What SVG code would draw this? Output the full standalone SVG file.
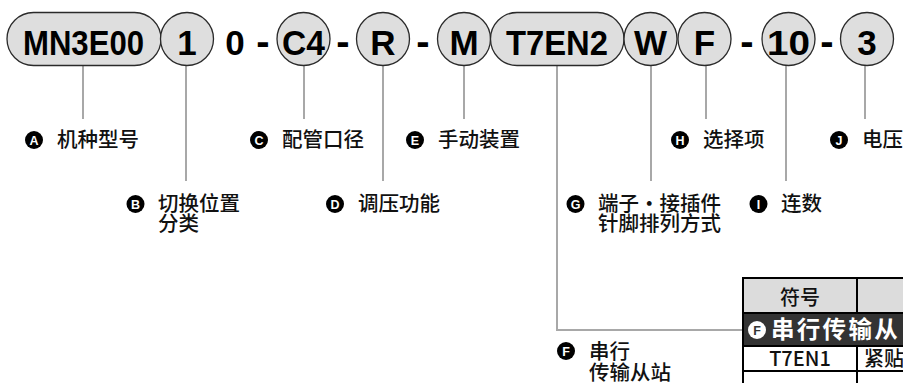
<svg xmlns="http://www.w3.org/2000/svg" width="903" height="383" viewBox="0 0 903 383">
<style>
.sh{fill:#dedede;stroke:#2a2a2a;stroke-width:1.3}
.code{font-family:"Liberation Sans",Arial,sans-serif;font-weight:bold;font-size:35px;fill:#000;text-anchor:middle}
.dash{font-family:"Liberation Sans",Arial,sans-serif;font-weight:bold;font-size:40px;fill:#000;text-anchor:middle}
.ln{stroke:#a8a8a8;stroke-width:2;fill:none}
.lab{font-family:"Noto Sans CJK SC",sans-serif;font-weight:500;font-size:20.5px;fill:#111}
.bd{fill:#000}
.bt{font-family:"Liberation Sans",Arial,sans-serif;font-weight:bold;font-size:12.5px;fill:#fff;text-anchor:middle}
.tb{stroke:#000;stroke-width:2;fill:none}
.th{font-family:"Noto Sans CJK SC",sans-serif;font-weight:500;font-size:20px;fill:#111;text-anchor:middle}
.td{font-family:"Noto Sans CJK SC",sans-serif;font-weight:500;font-size:20px;fill:#111}
</style>
<rect width="903" height="383" fill="#fff"/>
<g id="connectors">
<line class="ln" x1="83" y1="65" x2="83" y2="119"/>
<line class="ln" x1="186" y1="65" x2="186" y2="181"/>
<line class="ln" x1="304" y1="65" x2="304" y2="119"/>
<line class="ln" x1="383" y1="65" x2="383" y2="181"/>
<line class="ln" x1="464" y1="65" x2="464" y2="119"/>
<polyline class="ln" points="557,65 557,330 743,330"/>
<line class="ln" x1="651" y1="65" x2="651" y2="181"/>
<line class="ln" x1="706" y1="65" x2="706" y2="119"/>
<line class="ln" x1="786" y1="65" x2="786" y2="181"/>
<line class="ln" x1="865" y1="65" x2="865" y2="119"/>
</g>
<g id="code">
<g id="n-MN3E00"><rect class="sh" x="7" y="12.5" width="154" height="53" rx="26.5"/><text class="code" x="83.5" y="55" textLength="121" lengthAdjust="spacingAndGlyphs">MN3E00</text></g>
<g id="n-1"><circle class="sh" cx="187" cy="39" r="26.5"/><text class="code" x="187" y="55">1</text></g>
<text class="code" x="235" y="55">0</text>
<text class="dash" x="263" y="55">-</text>
<g id="n-C4"><circle class="sh" cx="303.5" cy="39" r="26.5"/><text class="code" x="303.5" y="55" textLength="43" lengthAdjust="spacingAndGlyphs">C4</text></g>
<text class="dash" x="343" y="55">-</text>
<g id="n-R"><circle class="sh" cx="383" cy="39" r="26.5"/><text class="code" x="383" y="55">R</text></g>
<text class="dash" x="423" y="55">-</text>
<g id="n-M"><circle class="sh" cx="464" cy="39" r="26.5"/><text class="code" x="464" y="55">M</text></g>
<g id="n-T7EN2"><rect class="sh" x="490.5" y="12.5" width="133.5" height="53" rx="26.5"/><text class="code" x="557" y="55" textLength="102" lengthAdjust="spacingAndGlyphs">T7EN2</text></g>
<g id="n-W"><circle class="sh" cx="650.5" cy="39" r="26.5"/><text class="code" x="650.5" y="55">W</text></g>
<g id="n-F"><circle class="sh" cx="704.5" cy="39" r="26.5"/><text class="code" x="704.5" y="55">F</text></g>
<text class="dash" x="747" y="55">-</text>
<g id="n-10"><circle class="sh" cx="788.5" cy="39" r="26.5"/><text class="code" x="788.5" y="55" textLength="43" lengthAdjust="spacingAndGlyphs">10</text></g>
<text class="dash" x="827" y="55">-</text>
<g id="n-3"><circle class="sh" cx="867" cy="39" r="26.5"/><text class="code" x="867" y="55">3</text></g>
</g>
<g id="label-A"><circle class="bd" cx="34" cy="140" r="9"/><text class="bt" x="34" y="144.5">A</text><text class="lab" x="57" y="147">机种型号</text></g>
<g id="label-B"><circle class="bd" cx="135.5" cy="204" r="9"/><text class="bt" x="135.5" y="208.5">B</text><text class="lab" x="158" y="211">切换位置</text><text class="lab" x="158" y="231">分类</text></g>
<g id="label-C"><circle class="bd" cx="259" cy="140" r="9"/><text class="bt" x="259" y="144.5">C</text><text class="lab" x="282" y="147">配管口径</text></g>
<g id="label-D"><circle class="bd" cx="335" cy="204" r="9"/><text class="bt" x="335" y="208.5">D</text><text class="lab" x="358" y="211">调压功能</text></g>
<g id="label-E"><circle class="bd" cx="415" cy="140" r="9"/><text class="bt" x="415" y="144.5">E</text><text class="lab" x="438" y="147">手动装置</text></g>
<g id="label-G"><circle class="bd" cx="575.5" cy="204" r="9"/><text class="bt" x="575.5" y="208.5">G</text><text class="lab" x="598" y="211">端子・接插件</text><text class="lab" x="598" y="231">针脚排列方式</text></g>
<g id="label-H"><circle class="bd" cx="680" cy="140" r="9"/><text class="bt" x="680" y="144.5">H</text><text class="lab" x="703" y="147">选择项</text></g>
<g id="label-I"><circle class="bd" cx="758.5" cy="204" r="9"/><text class="bt" x="758.5" y="208.5">I</text><text class="lab" x="781" y="211">连数</text></g>
<g id="label-J"><circle class="bd" cx="839" cy="140" r="9"/><text class="bt" x="839" y="144.5">J</text><text class="lab" x="862" y="147">电压</text></g>
<g id="label-F"><circle class="bd" cx="566" cy="351" r="9"/><text class="bt" x="566" y="355.5">F</text><text class="lab" x="589" y="359">串行</text><text class="lab" x="589" y="380">传输从站</text></g>
<g id="table">
<rect x="743" y="278" width="170" height="35" fill="#dcdcdc"/>
<rect x="743" y="313" width="170" height="33" fill="#333"/>
<line class="tb" x1="743" y1="278" x2="903" y2="278"/>
<line class="tb" x1="743" y1="313" x2="903" y2="313"/>
<line class="tb" x1="743" y1="346" x2="903" y2="346"/>
<line class="tb" x1="743" y1="371" x2="903" y2="371"/>
<line class="tb" x1="743" y1="277" x2="743" y2="383"/>
<line class="tb" x1="857" y1="278" x2="857" y2="313"/>
<line class="tb" x1="857" y1="346" x2="857" y2="383"/>
<text class="th" x="800" y="305">符号</text>
<circle cx="757" cy="330" r="9" fill="#fff"/>
<text x="757" y="334.5" font-family="Liberation Sans, Arial, sans-serif" font-weight="bold" font-size="12.5" fill="#333" text-anchor="middle">F</text>
<text x="771" y="338" font-family="Noto Sans CJK SC, sans-serif" font-weight="bold" font-size="23.5" letter-spacing="2.3" fill="#fff">串行传输从</text>
<text class="th" x="800" y="366">T7EN1</text>
<text class="td" x="864" y="366">紧贴</text>
</g>
</svg>
